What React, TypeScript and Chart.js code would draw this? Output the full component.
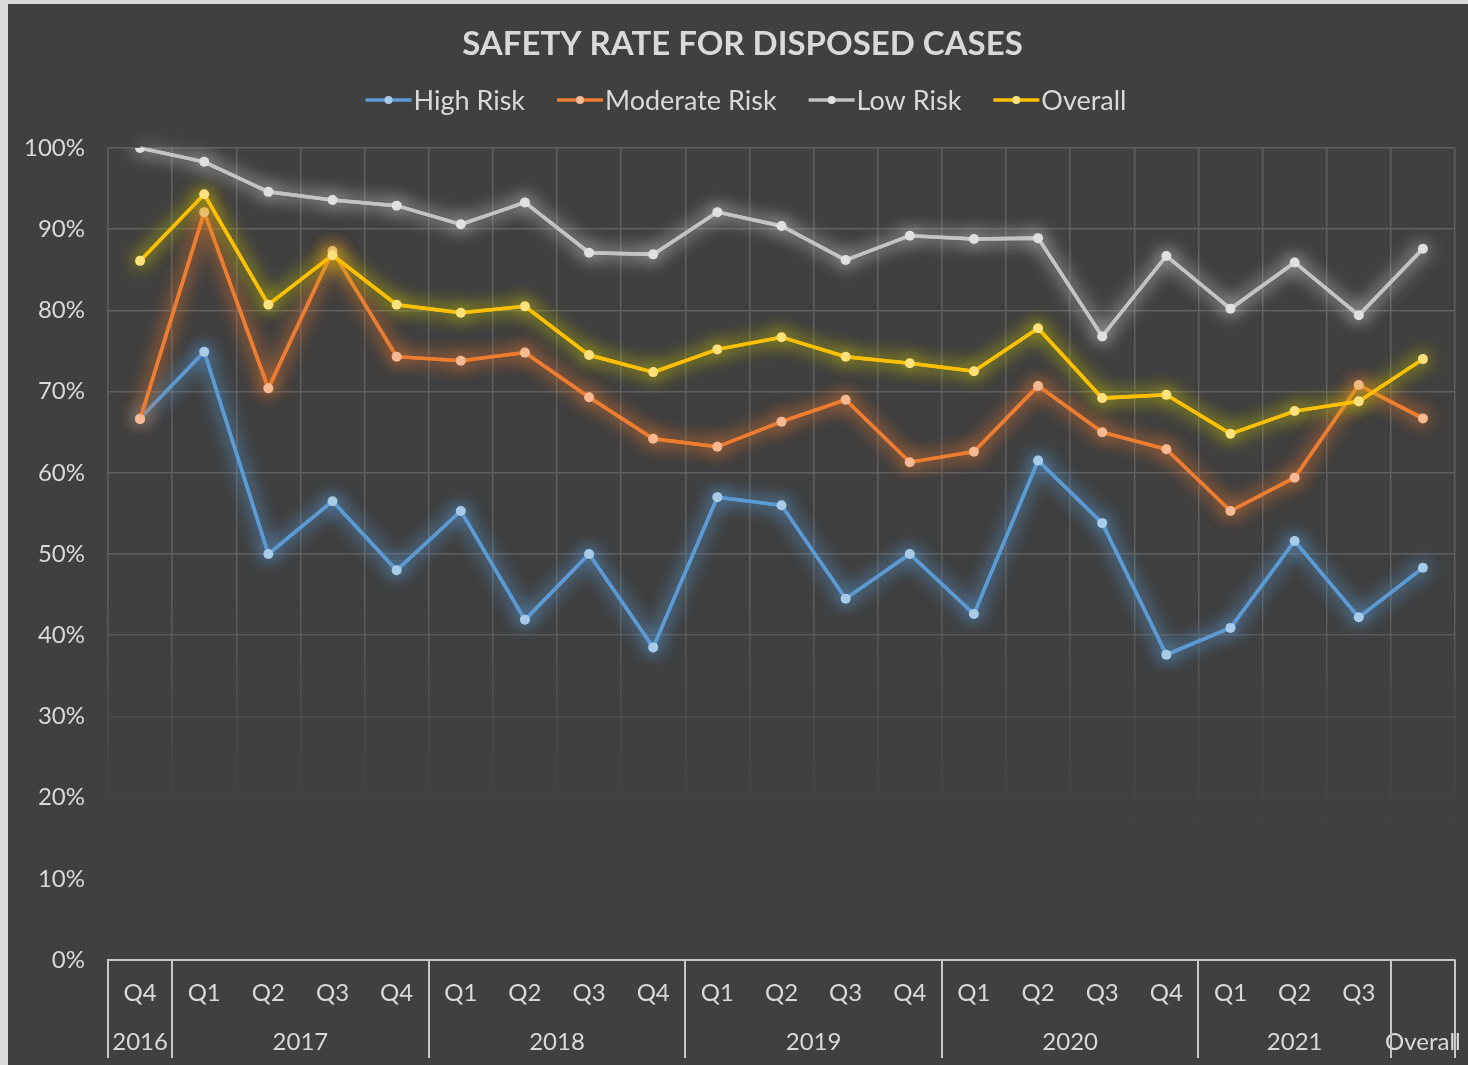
import React, { useEffect, useRef } from "react";
import { Chart, registerables } from "chart.js";

Chart.register(...registerables);

const quarterLabels = ["Q4", "Q1", "Q2", "Q3", "Q4", "Q1", "Q2", "Q3", "Q4", "Q1", "Q2", "Q3", "Q4", "Q1", "Q2", "Q3", "Q4", "Q1", "Q2", "Q3", ""];
const yearLabels = ["2016", "2017", "2018", "2019", "2020", "2021", "Overall"];
const yearSpans = [1, 4, 4, 4, 4, 3, 1];

const highRisk = [66.7, 74.9, 50.0, 56.5, 48.0, 55.3, 41.9, 50.0, 38.5, 57.0, 56.0, 44.5, 50.0, 42.6, 61.5, 53.8, 37.6, 40.9, 51.6, 42.2, 48.3];
const moderateRisk = [66.6, 92.1, 70.4, 87.3, 74.3, 73.8, 74.8, 69.3, 64.2, 63.2, 66.3, 69.0, 61.3, 62.6, 70.7, 65.0, 62.9, 55.3, 59.4, 70.8, 66.7];
const lowRisk = [100.0, 98.3, 94.6, 93.6, 92.9, 90.6, 93.3, 87.1, 86.9, 92.1, 90.4, 86.2, 89.2, 88.8, 88.9, 76.8, 86.7, 80.2, 85.9, 79.4, 87.6];
const overall = [86.1, 94.3, 80.7, 86.8, 80.7, 79.7, 80.5, 74.5, 72.4, 75.2, 76.7, 74.3, 73.5, 72.5, 77.8, 69.2, 69.6, 64.8, 67.6, 68.8, 74.0];

const yTicks = [0, 10, 20, 30, 40, 50, 60, 70, 80, 90, 100];

const chartTitle = "SAFETY RATE FOR DISPOSED CASES";
const seriesNames = ["High Risk", "Moderate Risk", "Low Risk", "Overall"];
const lineColors = ["#5b9bd5", "#ed7d31", "#c3c3c3", "#ffc000"];
const pointColors = ["#a9cbea", "#f6b993", "#e0e0e0", "#ffe07a"];
const glowColors = ["rgba(91,155,213,1)", "rgba(237,125,49,0.95)", "rgba(235,235,235,0.75)", "rgba(205,200,0,0.95)"];

const TEXT = "#d9d9d9";
const FONT = "Lato, 'Noto Sans', sans-serif";

let gridGradient: CanvasGradient | null = null;
let gridKey = "";
function gridColor(c: any) {
  const chart = c.chart;
  const area = chart.chartArea;
  if (!area) return "#5a5a5a";
  const key = area.top + ":" + area.bottom;
  if (!gridGradient || gridKey !== key) {
    const g = chart.ctx.createLinearGradient(0, area.top, 0, area.bottom);
    g.addColorStop(0, "rgba(95,95,95,1)");
    g.addColorStop(0.55, "rgba(95,95,95,1)");
    g.addColorStop(0.7, "rgba(95,95,95,0.4)");
    g.addColorStop(0.84, "rgba(95,95,95,0)");
    g.addColorStop(1, "rgba(95,95,95,0)");
    gridGradient = g;
    gridKey = key;
  }
  return gridGradient;
}

const bgPlugin = {
  id: "bg",
  beforeDraw(chart: any) {
    const ctx = chart.ctx;
    ctx.save();
    ctx.fillStyle = "#404040";
    ctx.fillRect(0, 0, chart.width, chart.height);
    ctx.fillStyle = TEXT;
    ctx.font = "bold 33px " + FONT;
    ctx.textAlign = "center";
    ctx.textBaseline = "middle";
    ctx.fillText(chartTitle, 734.5, 40);
    ctx.restore();
  },
};

const glowPlugin = {
  id: "glow",
  beforeDatasetDraw(chart: any, args: any) {
    const ctx = chart.ctx;
    const ds = chart.data.datasets[args.index];
    const meta = args.meta;
    ctx.save();
    ctx.shadowColor = ds.glowColor;
    ctx.shadowBlur = 18;
    if (meta && meta.dataset) {
      meta.dataset.draw(ctx, chart.chartArea);
    }
  },
  afterDatasetDraw(chart: any) {
    chart.ctx.restore();
  },
};

const legendPlugin = {
  id: "customLegend",
  afterDraw(chart: any) {
    const ctx = chart.ctx;
    ctx.save();
    ctx.font = "27px " + FONT;
    const markerW = 46;
    const gapText = 2;
    const gapItem = 32;
    const widths = seriesNames.map((n) => ctx.measureText(n).width);
    let total = 0;
    widths.forEach((w, i) => {
      total += markerW + gapText + w + (i < widths.length - 1 ? gapItem : 0);
    });
    let x = chart.width / 2 + 8 - total / 2;
    const y = 96;
    seriesNames.forEach((name, i) => {
      ctx.strokeStyle = lineColors[i];
      ctx.lineWidth = 3.5;
      ctx.beginPath();
      ctx.moveTo(x, y);
      ctx.lineTo(x + markerW, y);
      ctx.stroke();
      ctx.fillStyle = pointColors[i];
      ctx.beginPath();
      ctx.arc(x + markerW / 2, y, 4, 0, Math.PI * 2);
      ctx.fill();
      ctx.fillStyle = TEXT;
      ctx.textAlign = "left";
      ctx.textBaseline = "middle";
      ctx.fillText(name, x + markerW + gapText, y + 1);
      x += markerW + gapText + widths[i] + gapItem;
    });
    ctx.restore();
  },
};

const groupAxisPlugin = {
  id: "groupAxis",
  afterDraw(chart: any) {
    const xs = chart.scales.x;
    const area = chart.chartArea;
    const ctx = chart.ctx;
    const n = quarterLabels.length;
    const edge = (i: number) => {
      if (i <= 0) return xs.left;
      if (i >= n) return xs.right;
      return (xs.getPixelForValue(i - 1) + xs.getPixelForValue(i)) / 2;
    };
    ctx.save();
    ctx.font = "24px " + FONT;
    ctx.fillStyle = TEXT;
    ctx.textAlign = "center";
    ctx.textBaseline = "middle";
    let start = 0;
    const bounds: number[] = [edge(0)];
    yearLabels.forEach((label, gi) => {
      const end = start + yearSpans[gi];
      const l = edge(start);
      const r = edge(end);
      ctx.fillText(label, (l + r) / 2, area.bottom + 82);
      bounds.push(r);
      start = end;
    });
    ctx.strokeStyle = "#c8c8c8";
    ctx.lineWidth = 2;
    bounds.forEach((bx) => {
      ctx.beginPath();
      ctx.moveTo(Math.round(bx), area.bottom);
      ctx.lineTo(Math.round(bx), area.bottom + 98);
      ctx.stroke();
    });
    ctx.restore();
  },
};

export default function App() {
  const ref = useRef<HTMLCanvasElement | null>(null);

  useEffect(() => {
    if (!ref.current) return;
    const data = [highRisk, moderateRisk, lowRisk, overall];
    const chart = new Chart(ref.current, {
      type: "line",
      data: {
        labels: quarterLabels,
        datasets: data.map((d, i) => ({
          label: seriesNames[i],
          data: d,
          borderColor: lineColors[i],
          backgroundColor: pointColors[i],
          pointBackgroundColor: pointColors[i],
          pointBorderWidth: 0,
          pointRadius: 5,
          borderWidth: 3.5,
          tension: 0,
          order: 4 - i,
          glowColor: glowColors[i],
        })) as any,
      },
      options: {
        responsive: false,
        animation: false,
        layout: { padding: { left: 0, right: 13, top: 144, bottom: 0 } },
        plugins: {
          legend: { display: false },
          tooltip: { enabled: false },
          title: { display: false },
        },
        scales: {
          x: {
            offset: true,
            grid: { offset: true, color: gridColor as any, lineWidth: 1.5, drawTicks: false },
            border: { display: true, color: "#c8c8c8", width: 2 },
            ticks: { color: TEXT, font: { family: FONT, size: 24 }, padding: 19, maxRotation: 0, autoSkip: false },
            afterFit: (s: any) => {
              s.height = 105;
            },
          },
          y: {
            min: 0,
            max: 100,
            afterBuildTicks: (s: any) => {
              s.ticks = yTicks.map((v) => ({ value: v }));
            },
            grid: { color: gridColor as any, lineWidth: 1.5, drawTicks: false },
            border: { display: false },
            ticks: {
              color: TEXT,
              font: { family: FONT, size: 24 },
              padding: 23,
              callback: (v: any) => v + "%",
            },
            afterFit: (s: any) => {
              s.width = 100;
            },
          },
        },
      },
      plugins: [bgPlugin, glowPlugin, legendPlugin, groupAxisPlugin],
    });
    return () => chart.destroy();
  }, []);

  return (
    <div style={{ position: "fixed", inset: 0, background: "#d9d9d9" }}>
      <canvas
        ref={ref}
        width={1460}
        height={1061}
        style={{ position: "absolute", left: 8, top: 4, width: 1460, height: 1061 }}
      />
    </div>
  );
}
